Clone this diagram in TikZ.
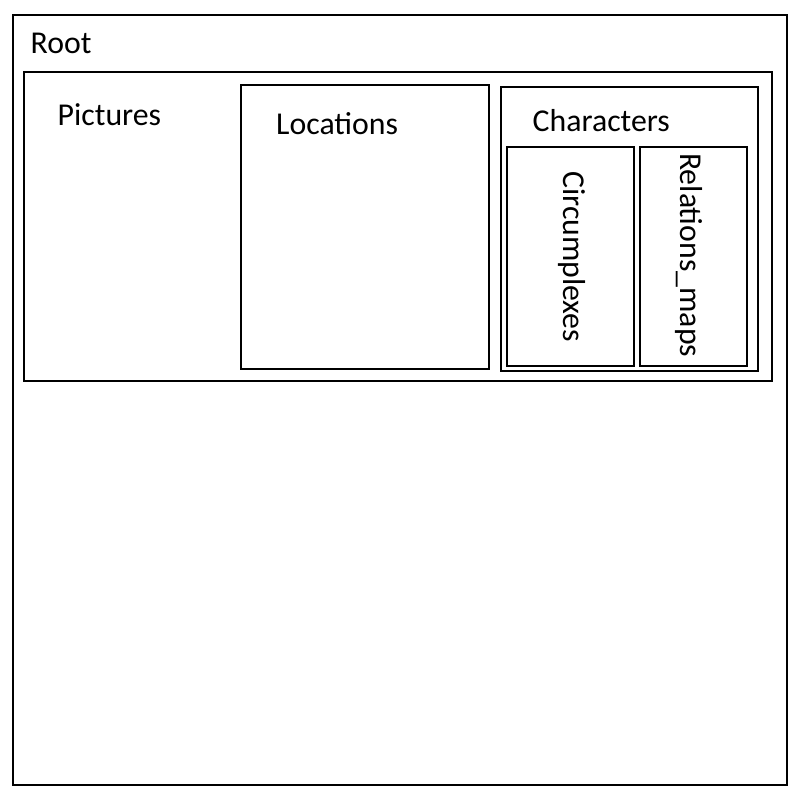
\documentclass[tikz,border=0pt]{standalone}
\usepackage{fontspec}
\setmainfont{Carlito}
\begin{document}
\begin{tikzpicture}[x=1pt,y=-1pt,
  box/.style={draw=black, line width=2pt},
  lbl/.style={inner sep=0pt, anchor=base west, font=\fontsize{31.8}{36}\selectfont}]
\useasboundingbox (0,0) rectangle (800,800);
\fill[white] (0,0) rectangle (800,800);
% boxes
\draw[box] (13,15) rectangle (787,785);
\draw[box] (24,72) rectangle (772,381);
\draw[box] (241,85) rectangle (489,369);
\draw[box] (501,87) rectangle (758,371);
\draw[box] (507,147) rectangle (634,366);
\draw[box] (640,147) rectangle (747,366);
% labels
\node[lbl] (root) at (30.5,53) {Root};
\node[lbl] (pictures) at (57.5,125) {Pictures};
\node[lbl] (locations) at (276,134) {Locations};
\node[lbl] (characters) at (532.5,131) {Characters};
\node[lbl, rotate=-90] (circ) at (563,171) {Circumplexes};
\node[lbl, rotate=-90] (rel) at (680.5,153) {Relations\_maps};
\end{tikzpicture}
\end{document}
